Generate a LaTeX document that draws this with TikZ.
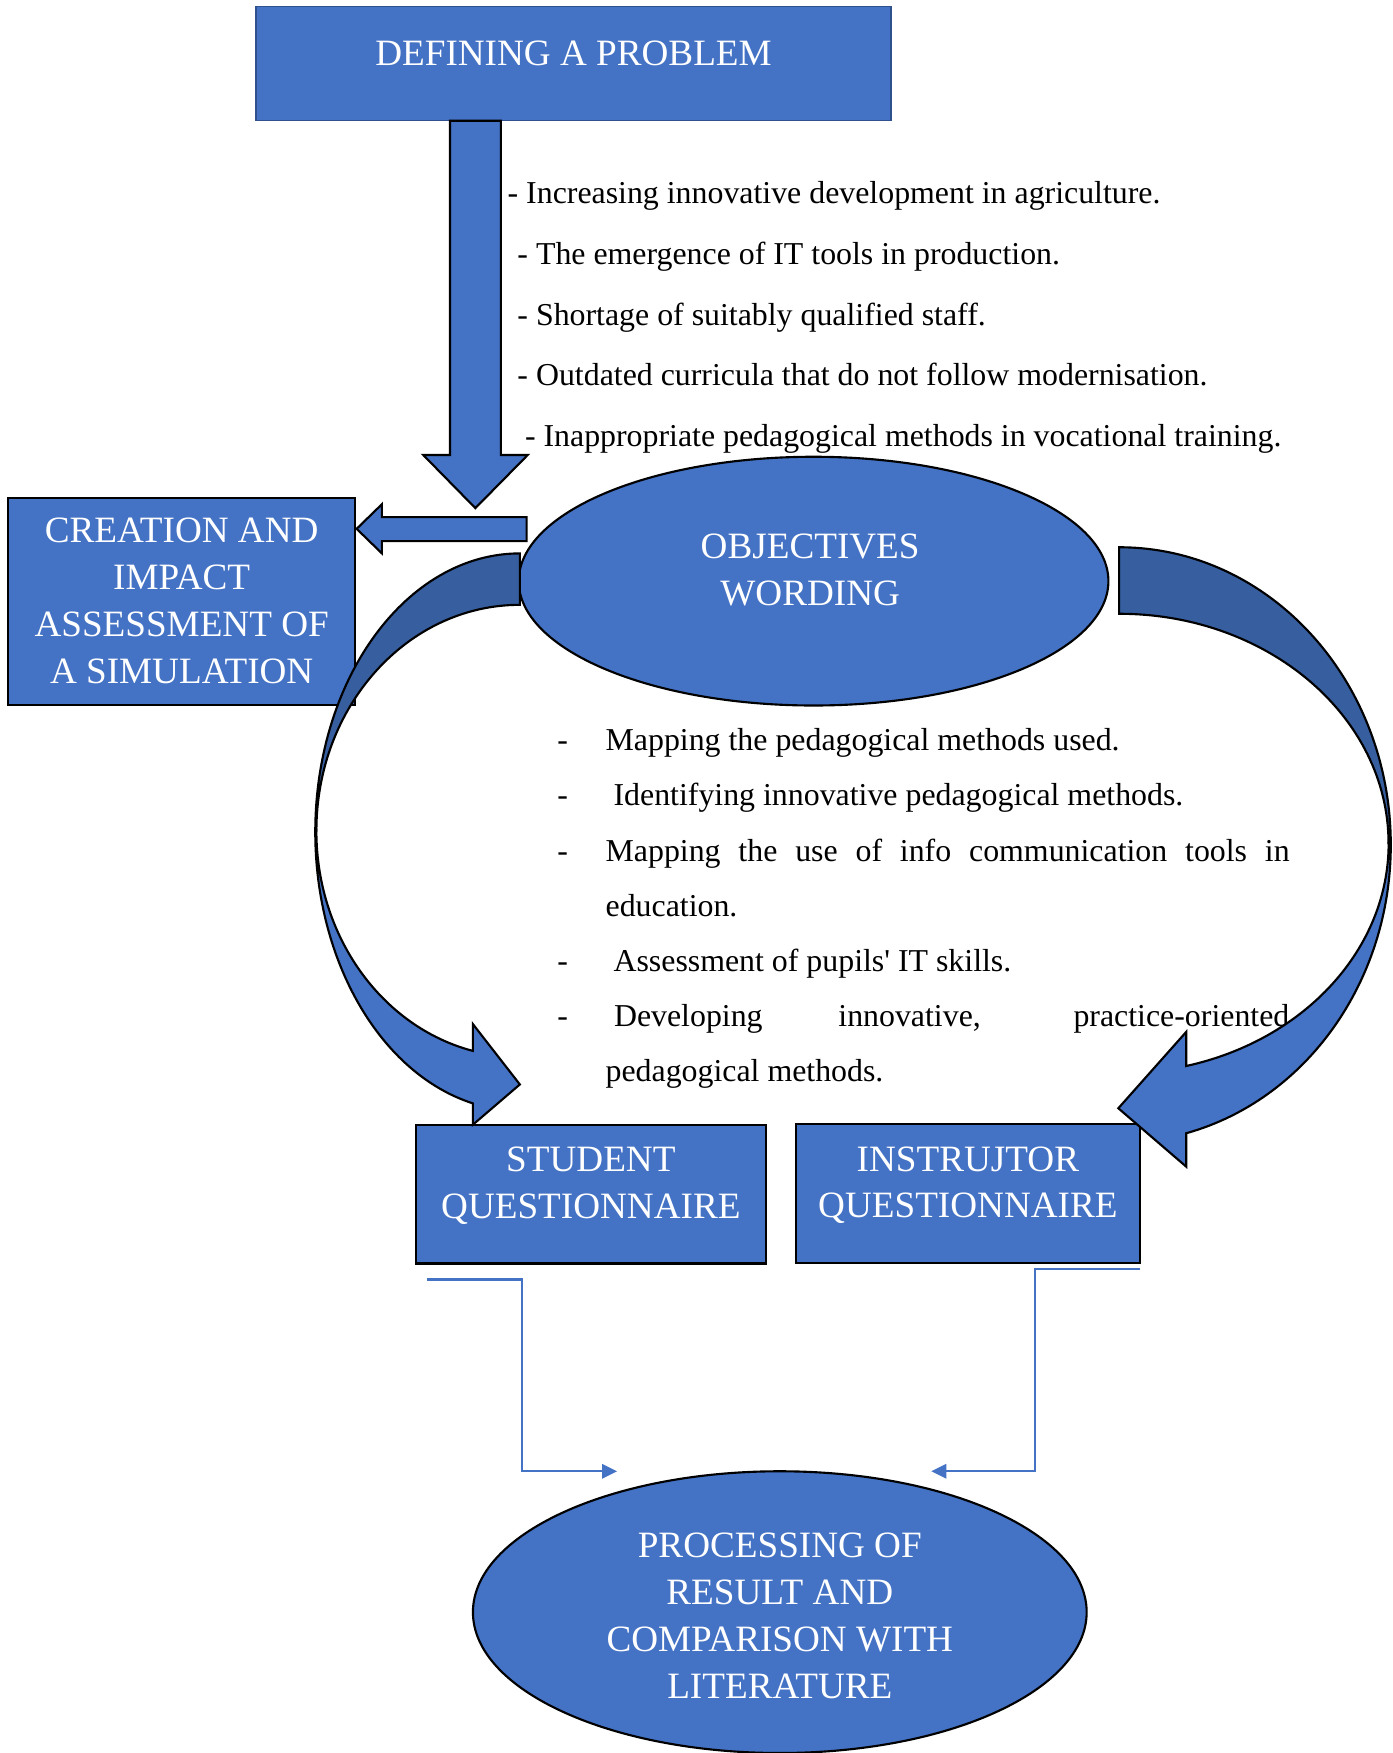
\documentclass[tikz,border=0pt]{standalone}
\usepackage{fontspec}
\setmainfont{Liberation Serif}
\usetikzlibrary{arrows.meta, positioning, shapes.geometric}

\definecolor{wordblue}{HTML}{4472C4}
\definecolor{wordedge}{HTML}{2F528F}
\definecolor{bandshade}{HTML}{375E9E}
\newcommand{\dsh}{\makebox[0.64cm][l]{-}}

\begin{document}
\begin{tikzpicture}[
x=0.0148cm, y=-0.0148cm,
box/.style={rectangle, draw, fill=wordblue, line width=0.8pt, inner sep=0pt, outer sep=0pt},
oval/.style={ellipse, draw, fill=wordblue, line width=0.8pt, inner sep=0pt, outer sep=0pt},
head/.style={text=white, align=center, inner sep=0pt, font=\fontsize{14}{17.6}\selectfont},
items/.style={align=left, inner sep=0pt, anchor=north west},
blk/.style={draw, fill=wordblue, line width=0.8pt, line join=miter},
blkdark/.style={blk, fill=bandshade},
link/.style={-{Triangle[length=0.2cm, width=0.19cm]}, draw=wordblue, line width=0.9pt}
]
\useasboundingbox (0,0) rectangle (1246,1568);

\node[box, draw=wordedge, line width=0.5pt, minimum width=8.41cm, minimum height=1.51cm] (prob) at (513,57) {};
\node[head, below=0.444cm of prob.north] (prob-t) {DEFINING A PROBLEM};

\filldraw[blk] (402.5,108) -- (402.5,407) -- (378.6,407) -- (425.2,454.5) -- (472,407) -- (448,407) -- (448,108) -- cycle;

\node[items, font=\fontsize{12}{22.83}\selectfont] (causes) at (453.6,162.2) {%
- Increasing innovative development in agriculture.\\
\hspace*{0.13cm}- The emergence of IT tools in production.\\
\hspace*{0.13cm}- Shortage of suitably qualified staff.\\
\hspace*{0.13cm}- Outdated curricula that do not follow modernisation.\\
\hspace*{0.23cm}- Inappropriate pedagogical methods in vocational training.};

\node[box, minimum width=4.6cm, minimum height=2.75cm] (sim) at (162.5,538) {};
\node[head, below=0.266cm of sim.north] (sim-t) {CREATION AND\\IMPACT\\ASSESSMENT OF\\A SIMULATION};

\filldraw[blk] (471,462.5) -- (341.6,462.5) -- (341.6,451) -- (319,473) -- (341.6,495) -- (341.6,484) -- (471,484) -- cycle;

\node[oval, minimum width=7.807cm, minimum height=3.293cm] (obj) at (727.7,519.8) {};
\node[head, below=1.014cm of obj.north, xshift=-0.045cm] (obj-t) {OBJECTIVES\\WORDING};

\node[items, font=\fontsize{12}{20.77}\selectfont] (aims) at (498,651.3) {%
\dsh Mapping the pedagogical methods used.\\
\dsh\ Identifying innovative pedagogical methods.\\
\dsh\makebox[9.056cm][s]{Mapping the use of info communication tools in}\\
\hspace*{0.64cm}education.\\
\dsh\ Assessment of pupils\textquotesingle{} IT skills.\\
\dsh\hspace{0.111cm}\makebox[8.94cm][s]{Developing innovative, practice-oriented}\\
\hspace*{0.64cm}pedagogical methods.};

\node[box, minimum width=4.632cm, minimum height=1.835cm] (stud) at (528.5,1068.2) {};
\node[head, below=0.289cm of stud.north] (stud-t) {STUDENT\\QUESTIONNAIRE};

\node[box, minimum width=4.558cm, minimum height=1.85cm] (inst) at (865.75,1067.5) {};
\node[head, below=0.296cm of inst.north] (inst-t) {INSTRUJTOR\\QUESTIONNAIRE};

\filldraw[blkdark] (465,495) arc[start angle=270, end angle=180, x radius=183, y radius=249.3]
  -- (283,743.2) arc[start angle=180, end angle=270, x radius=182, y radius=202.2] -- cycle;
\filldraw[blk] (282,744.3) arc[start angle=180, end angle=103.27, x radius=183, y radius=249.3]
  -- (423,1006) -- (465,970) -- (423,916) -- (423,940)
  arc[start angle=103.34, end angle=180, x radius=182, y radius=202.2] -- cycle;

\filldraw[blkdark] (1001,489.5) arc[start angle=270, end angle=360, x radius=243, y radius=266.2]
  -- (1242,754.5) arc[start angle=360, end angle=270, x radius=241, y radius=205.5] -- cycle;
\filldraw[blk] (1244,755.7) arc[start angle=0, end angle=75.7, x radius=243, y radius=266.2]
  -- (1061,1043.5) -- (1000.3,991.3) -- (1061,923) -- (1061,953.5)
  arc[start angle=75.6, end angle=0, x radius=241, y radius=205.5] -- cycle;

\node[oval, minimum width=8.125cm, minimum height=3.73cm] (proc) at (697.5,1442) {};
\node[head, below=0.814cm of proc.north] (proc-t) {PROCESSING OF\\RESULT AND\\COMPARISON WITH\\LITERATURE};

\coordinate (stud-out) at (382,1144.5);
\coordinate (stud-in) at (552,1316);
\coordinate (inst-out) at (1020,1135);
\coordinate (inst-in) at (833,1316);
\draw[link] (stud-out) -| ([xshift=-1.258cm]stud-in) -- (stud-in);
\draw[link] (inst-out) -| ([xshift=1.376cm]inst-in) -- (inst-in);
\end{tikzpicture}
\end{document}
